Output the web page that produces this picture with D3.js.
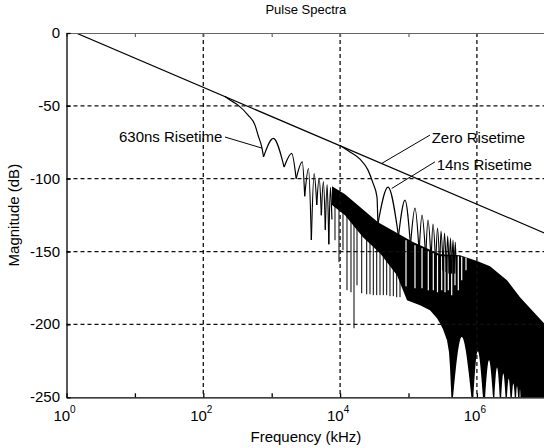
<!DOCTYPE html>
<html><head><meta charset="utf-8">
<script src="https://cdn.jsdelivr.net/npm/d3@7"></script>
<style>
body{margin:0;background:#fff}
svg{display:block}
text{font-family:"Liberation Sans",Arial,sans-serif;fill:#000}
</style>
</head><body>
<svg id="chart" width="544" height="448"></svg>
<script>
// ---------- data (frequency in kHz, magnitude in dB) ----------
const xTickValues = [1, 1e1, 1e2, 1e3, 1e4, 1e5, 1e6, 1e7];
const xLabelValues = [1, 1e2, 1e4, 1e6];
const xLabelExponents = ["0", "2", "4", "6"];
const yTickValues = [0, -50, -100, -150, -200, -250];
const xGridValues = [1e2, 1e4, 1e6];
const yGridValues = [-50, -100, -150, -200];

// zero risetime envelope (the other two curves follow it at low frequency)
const zeroRise = [[1.38, 0], [1e7, -137.5]];

const rise630Smooth = [[207.6, -43.5], [263, -46.9], [321, -49.5], [451, -56.3],
  [570, -63.2], [631, -70], [721, -79], [760, -85]];
const nulls630 = [[760, -85], [1520, -92], [2280, -100], [3040, -112], [3800, -142],
  [4560, -118], [5320, -125], [6080, -135], [6840, -145], [7600, -128]];
const peaks630 = [[1055, -72.3], [1960, -82.6], [2800, -88.4], [3450, -93], [4170, -96.5],
  [4940, -99.5], [5700, -102], [6460, -104], [7220, -106]];

const rise14Smooth = [[1e4, -77.2], [13960, -81.6], [19540, -86.6], [25590, -94.1],
  [30270, -103], [34600, -112.6], [35700, -131]];
const nulls14 = [[35700, -131], [71400, -139.4], [107000, -145.6], [143000, -150.4],
  [178500, -154.5], [214000, -157.3], [250000, -160], [286000, -162], [321000, -163],
  [357000, -164], [393000, -165], [428000, -165], [464000, -165], [500000, -165]];
const peaks14 = [[50150, -105.8], [88900, -114.7], [124500, -120.2], [157600, -125],
  [192800, -128.4], [228100, -131.2], [265500, -133.9], [298700, -136], [336000, -137.4],
  [374300, -139.4], [411200, -140.8], [447300, -142.2], [483300, -143.5]];

// dense (aliased) region of the spectra
const bandUpper = [[7615, -105.1], [11790, -110.6], [35820, -129.8], [116360, -143.5],
  [288800, -151.8], [566200, -152.5], [1027300, -156.6], [1554000, -160], [2755000, -169.6],
  [4267000, -181.3], [9570000, -199.2], [1e7, -200.5]];
const bandLower = [[1e7, -252], [425300, -252], [404400, -229.4], [391000, -219.1],
  [365500, -210.9], [319500, -203.3], [288800, -199.2], [261000, -195.7], [206200, -190.2],
  [147300, -186.8], [95080, -183.4], [83090, -176.5], [67900, -166.2], [38320, -151.1],
  [21610, -140.1], [11790, -125], [7615, -118.1]];
// [freq, top dB, bottom dB]
const spikes = [[8422, -117.4, -142.2], [9636, -119.5, -157.3], [11025, -121.6, -149],
  [12614, -124.3, -176.5], [14432, -127.7, -177.9], [15970, -129.8, -202.6],
  [17665, -132.6, -173.1], [20696, -136.7, -178.6], [24485, -139.4, -179.3],
  [27358, -141.5, -179.3], [30580, -143.5, -179.9], [34290, -145.6, -179.9],
  [38320, -148.4, -179.9], [42810, -150.4, -179.9], [48010, -153.2, -179.9],
  [53630, -155.9, -180.6], [59960, -158.7, -180.6], [67210, -161.4, -181.3],
  [75120, -164.8, -181.3]];
const gaps = [[91950, -142.2, -173.8], [124450, -145.6, -175.1], [157590, -147.7, -175.1],
  [194760, -149.7, -176.5], [230500, -151.1, -176.5], [265460, -152.5, -177.9],
  [305800, -153.2, -176.5], [341700, -153.2, -177.9], [381900, -153.2, -176.5],
  [428100, -153.2, -180], [478500, -153.2, -173.1], [534900, -153.2, -176.5],
  [599600, -153.5, -169.6], [692700, -154, -162.8]];
// [start freq, peak freq, end freq, peak dB]
const lowerLobes = [[442800, 599600, 839500, -208.6], [886200, 1027300, 1240500, -218.2],
  [1313400, 1502700, 1737400, -224.6], [1796800, 1967600, 2176600, -229.6],
  [2251000, 2432200, 2637200, -233.7], [2727400, 2917100, 3120300, -237.2],
  [3227100, 3405700, 3605800, -240.6], [3729000, 3857400, 4029900, -242.4],
  [4195500, 4267000, 4369200, -244.5]];

const annoTexts = ["630ns Risetime", "Zero Risetime", "14ns Risetime"];
const annoAnchors = [[5.855, -74.9], [218400, -75.5], [258400, -94.1]];
const annoFrom = [[207.6, -71.4], [206200, -70.05], [244000, -88.4]];
const annoTo = [[721.4, -79], [40580, -89.5], [56810, -106.7]];

// ---------- drawing ----------
const svg = d3.select("#chart");
const L = 66.5, R = 545.3, T = 33, B = 397.3;
const x = d3.scaleLog().domain([1, 1e7]).range([L, R]);
const y = d3.scaleLinear().domain([0, -250]).range([T, B]);

svg.append("defs").append("clipPath").attr("id", "clip")
  .append("rect").attr("x", L).attr("y", T).attr("width", R - L).attr("height", B - T);

const plot = svg.append("g").attr("clip-path", "url(#clip)");
const line = d3.line().x(d => x(d[0])).y(d => y(d[1]));
const smooth = d3.line().x(d => x(d[0])).y(d => y(d[1])).curve(d3.curveMonotoneX);

// dense band
plot.append("path").attr("d", line(bandUpper.concat(bandLower)) + "Z").attr("fill", "#000");
// white lobes under the band
plot.selectAll(".lobeW").data(lowerLobes).join("path")
  .attr("d", d => smooth([[d[0], -252], [d[1], d[3]], [d[2], -252]]))
  .attr("fill", "#fff");
plot.selectAll(".gap").data(gaps).join("line")
  .attr("x1", d => x(d[0])).attr("x2", d => x(d[0]))
  .attr("y1", d => y(d[1])).attr("y2", d => y(d[2]))
  .attr("stroke", "#fff").attr("stroke-width", 1.2);
plot.selectAll(".spike").data(spikes).join("line")
  .attr("x1", d => x(d[0])).attr("x2", d => x(d[0]))
  .attr("y1", d => y(d[1])).attr("y2", d => y(d[2]))
  .attr("stroke", "#000").attr("stroke-width", 1);

// grid
const grid = svg.append("g").attr("stroke", "#111").attr("stroke-width", 1.3).attr("stroke-dasharray", "4,3");
grid.selectAll(".gx").data(xGridValues).join("line")
  .attr("x1", d => x(d)).attr("x2", d => x(d)).attr("y1", T).attr("y2", B);
grid.selectAll(".gy").data(yGridValues).join("line")
  .attr("x1", L).attr("x2", R).attr("y1", d => y(d)).attr("y2", d => y(d));

// curves
const curves = plot.append("g").attr("fill", "none").attr("stroke", "#000").attr("stroke-width", 1.2);
curves.append("path").attr("d", line(zeroRise));
curves.append("path").attr("d", smooth(rise630Smooth));
curves.append("path").attr("d", smooth(rise14Smooth));
curves.selectAll(".l630").data(peaks630).join("path")
  .attr("d", (d, i) => smooth([nulls630[i], d, nulls630[i + 1]]));
curves.selectAll(".l14").data(peaks14).join("path")
  .attr("d", (d, i) => smooth([nulls14[i], d, nulls14[i + 1]]));

// annotations
const ann = svg.append("g");
ann.selectAll("text").data(annoTexts).join("text")
  .attr("x", (d, i) => x(annoAnchors[i][0])).attr("y", (d, i) => y(annoAnchors[i][1]))
  .attr("font-size", 15).text(d => d);
ann.selectAll("line").data(annoTexts).join("line")
  .attr("x1", (d, i) => x(annoFrom[i][0])).attr("y1", (d, i) => y(annoFrom[i][1]))
  .attr("x2", (d, i) => x(annoTo[i][0])).attr("y2", (d, i) => y(annoTo[i][1]))
  .attr("stroke", "#000").attr("stroke-width", 1);

// axes
const axB = svg.append("g").attr("transform", `translate(0,${B})`)
  .call(d3.axisBottom(x).tickValues(xTickValues).tickSizeInner(-4).tickSizeOuter(0).tickFormat(""));
const axT = svg.append("g").attr("transform", `translate(0,${T})`)
  .call(d3.axisTop(x).tickValues(xTickValues).tickSizeInner(-4).tickSizeOuter(0).tickFormat(""));
const axL = svg.append("g").attr("transform", `translate(${L},0)`)
  .call(d3.axisLeft(y).tickValues(yTickValues).tickSizeInner(-4).tickSizeOuter(0).tickFormat(""));
[axB, axL].forEach(a => a.selectAll("path,line").attr("stroke", "#000").attr("stroke-width", 1.3));
axT.selectAll("path,line").attr("stroke", "#666").attr("stroke-width", 1.2);

// tick labels
const xl = svg.append("g").selectAll("text").data(xLabelValues).join("text")
  .attr("x", d => x(d) - 2).attr("y", 421).attr("text-anchor", "middle").attr("font-size", 15);
xl.append("tspan").text("10");
xl.append("tspan").attr("dy", -8).attr("font-size", 10).text((d, i) => xLabelExponents[i]);

svg.append("g").selectAll("text").data(yTickValues).join("text")
  .attr("x", 60).attr("y", d => y(d) + 5).attr("text-anchor", "end").attr("font-size", 15)
  .text(d => d);

svg.append("text").attr("x", (L + R) / 2).attr("y", 14).attr("text-anchor", "middle")
  .attr("font-size", 13).text("Pulse Spectra");
svg.append("text").attr("x", (L + R) / 2).attr("y", 442).attr("text-anchor", "middle")
  .attr("font-size", 15).text("Frequency (kHz)");
svg.append("text").attr("transform", `translate(19,${(T + B) / 2}) rotate(-90)`)
  .attr("text-anchor", "middle").attr("font-size", 15).text("Magnitude (dB)");
</script>
</body></html>
